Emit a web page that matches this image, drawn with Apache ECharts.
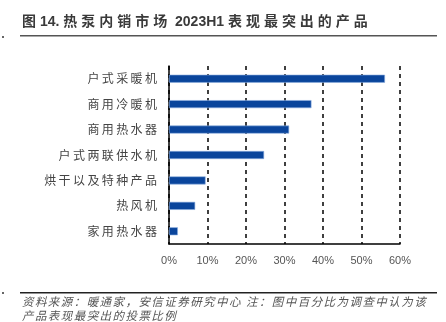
<!DOCTYPE html>
<html>
<head>
<meta charset="utf-8">
<script src="https://cdn.jsdelivr.net/npm/echarts@6/dist/echarts.min.js"></script>
<style>
html,body{margin:0;padding:0;background:#fff;}
#c{width:446px;height:322px;}
</style>
</head>
<body>
<div id="c"></div>
<script>
const categories = ['户式采暖机','商用冷暖机','商用热水器','户式两联供水机','烘干以及特种产品','热风机','家用热水器'];
const values = [56.1, 37.0, 31.2, 24.7, 9.5, 6.8, 2.3];
const xTicks = [0, 10, 20, 30, 40, 50, 60];
const titleText = '图14. 热泵内销市场 2023H1 表现最突出的产品';
const noteLine1 = '资料来源：暖通家，安信证券研究中心 注：图中百分比为调查中认为该';
const noteLine2 = '产品表现最突出的投票比例';

const TITLE_FONT = '"Liberation Sans", "Noto Sans CJK SC", sans-serif';
const CJK = '"Noto Sans CJK SC", sans-serif';
function spacedCJK(s, sp){
  let out = '';
  for (let i = 0; i < s.length; i++) {
    out += s[i];
    if (i < s.length - 1 && /[\u3000-\u9fff\uff00-\uffef]/.test(s[i])) out += sp;
  }
  return out;
}
function spaced(s, sp){ return s.split('').join(sp); }

const chart = echarts.init(document.getElementById('c'), null, {renderer:'canvas'});
chart.setOption({
  animation: false,
  backgroundColor: '#fff',
  grid: {left: 169, right: 46, top: 66, bottom: 78, containLabel: false},
  xAxis: {
    type: 'value',
    min: xTicks[0], max: xTicks[xTicks.length-1], interval: 10,
    axisLine: {show: true, lineStyle: {color: '#000', width: 1.5}},
    axisTick: {show: false},
    axisLabel: {formatter: '{value}%', color: '#555', fontSize: 11, margin: 11, fontFamily: 'Arial, "Liberation Sans", sans-serif'},
    splitLine: {show: true, lineStyle: {color: '#000', type: [4, 4], width: 1.5}}
  },
  yAxis: {
    type: 'category',
    data: categories,
    inverse: true,
    axisLine: {show: true, lineStyle: {color: '#000', width: 1.5}},
    axisTick: {show: false},
    axisLabel: {color: '#444', fontSize: 12, margin: 12, fontFamily: CJK,
      formatter: v => spaced(v, '\u2009')}
  },
  series: [{
    type: 'bar',
    data: values,
    barWidth: 8,
    itemStyle: {color: '#0a459c', borderColor: '#8fb0e0', borderWidth: 0.6}
  }],
  graphic: [
    {type: 'text', left: 22, top: 15, style: {text: spacedCJK(titleText, '\u2009\u200a'), font: 'bold 14px ' + TITLE_FONT, fill: '#3a3a3a'}},
    {type: 'rect', shape: {x: 20, y: 35, width: 417, height: 1.5}, style: {fill: '#555'}},
    {type: 'rect', shape: {x: 2, y: 36, width: 2, height: 2}, style: {fill: '#666'}},
    {type: 'rect', shape: {x: 20, y: 292, width: 417, height: 1.5}, style: {fill: '#222'}},
    {type: 'rect', shape: {x: 2, y: 292, width: 2, height: 2}, style: {fill: '#666'}},
    {type: 'text', left: 22, top: 296, style: {text: spaced(noteLine1, '\u200a\u200a'), font: 'italic 11.5px ' + CJK, fill: '#555'}},
    {type: 'text', left: 22, top: 310, style: {text: spaced(noteLine2, '\u200a\u200a'), font: 'italic 11.5px ' + CJK, fill: '#555'}}
  ]
});
</script>
</body>
</html>
